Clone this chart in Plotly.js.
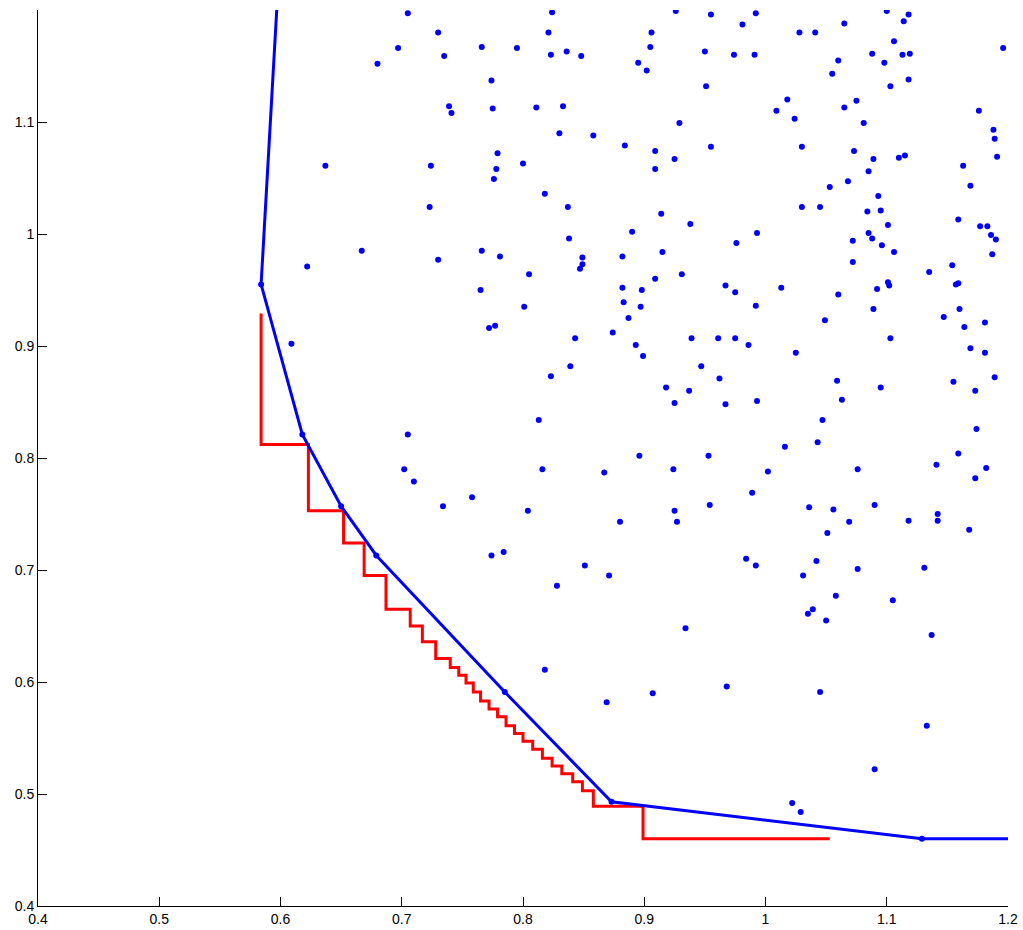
<!DOCTYPE html>
<html>
<head>
<meta charset="utf-8">
<script src="https://cdn.plot.ly/plotly-3.0.1.min.js"></script>
<style>html,body{margin:0;padding:0;background:#fff;}#chart{width:1023px;height:930px;}</style>
</head>
<body>
<div id="chart"></div>
<script>
// Scattered sample points
const pointsX = [
0.705,0.730,0.697,0.766,0.795,0.735,0.680,0.774,0.739,0.741,0.775,0.779,0.637,0.724,0.800,0.778,0.776,0.723,
0.824,0.926,0.955,0.992,0.981,0.821,0.906,0.905,0.823,0.836,0.848,0.950,0.974,0.991,0.895,0.902,0.951,0.811,0.833,1.009,0.929,0.830,0.858,0.884,0.909,0.955,0.925,0.909,0.818,0.837,0.914,
1.100,1.118,1.114,1.065,1.028,1.041,1.106,1.196,1.088,1.113,1.119,1.060,1.098,1.055,1.118,1.103,1.018,1.075,1.065,1.176,1.024,1.081,1.188,1.189,1.030,1.073,1.089,1.110,1.115,1.191,1.163,1.085,1.068,1.053,1.169,1.093,1.030,1.045,1.084,1.095,
0.667,0.622,0.730,0.766,0.781,0.805,0.765,0.801,0.772,0.777,0.609,
0.938,0.890,0.993,0.838,0.976,0.849,0.882,0.915,0.849,0.847,0.909,0.931,0.882,0.898,0.967,0.975,1.013,0.883,0.897,0.992,0.887,0.874,0.843,0.939,0.961,0.975,0.986,0.893,0.899,0.839,0.947,0.823,0.962,0.918,0.937,0.925,0.967,0.993,0.813,
1.159,1.101,1.177,1.183,1.085,1.088,1.072,1.096,1.186,1.190,1.106,1.187,1.072,1.154,1.135,1.101,1.102,1.092,1.060,1.157,1.159,1.089,1.160,1.049,1.147,1.164,1.181,1.103,1.025,1.169,1.181,1.059,1.095,1.155,1.189,1.173,1.063,1.047,1.174,
0.705,0.702,0.710,0.758,0.734,0.804,0.774,0.784,
0.816,0.867,0.896,0.924,0.953,1.002,0.989,0.954,0.925,0.927,0.880,0.851,0.871,0.828,0.984,0.992,0.934,
1.016,1.043,1.159,1.141,1.182,1.173,1.076,1.036,1.056,1.090,1.069,1.051,1.118,1.142,1.142,1.168,1.042,1.076,1.031,1.131,1.058,1.105,1.035,1.039,1.050,1.137,
0.818,0.869,0.907,0.968,1.045,1.133,1.090,1.022,1.029,
0.584,0.618,0.650,0.679,0.785,0.873,1.129
];
const pointsY = [
1.197,1.180,1.166,1.167,1.166,1.159,1.152,1.137,1.114,1.108,1.112,1.072,1.061,1.061,1.063,1.058,1.049,1.024,
1.198,1.199,1.196,1.197,1.187,1.180,1.180,1.167,1.160,1.163,1.159,1.163,1.160,1.160,1.153,1.146,1.132,1.113,1.114,1.110,1.099,1.090,1.088,1.079,1.074,1.078,1.067,1.058,1.036,1.024,1.018,
1.199,1.196,1.190,1.188,1.180,1.180,1.172,1.166,1.161,1.160,1.161,1.155,1.153,1.143,1.138,1.132,1.120,1.119,1.113,1.110,1.103,1.099,1.093,1.085,1.078,1.074,1.067,1.068,1.070,1.069,1.061,1.056,1.047,1.042,1.043,1.034,1.024,1.024,1.020,1.021,
0.985,0.971,0.977,0.985,0.980,0.964,0.950,0.935,0.916,0.918,0.902,
1.009,1.002,1.001,0.996,0.992,0.979,0.980,0.984,0.973,0.969,0.960,0.964,0.952,0.950,0.954,0.948,0.952,0.939,0.935,0.936,0.925,0.912,0.907,0.907,0.907,0.907,0.901,0.901,0.891,0.882,0.882,0.873,0.871,0.863,0.860,0.849,0.848,0.851,0.834,
1.013,1.008,1.007,1.007,1.001,0.996,0.994,0.990,0.999,0.995,0.984,0.982,0.975,0.972,0.966,0.957,0.954,0.951,0.946,0.955,0.956,0.933,0.933,0.923,0.926,0.917,0.921,0.907,0.894,0.898,0.894,0.869,0.863,0.868,0.872,0.860,0.852,0.834,0.826,
0.821,0.790,0.779,0.765,0.757,0.753,0.713,0.716,
0.790,0.787,0.802,0.790,0.802,0.788,0.769,0.758,0.753,0.743,0.743,0.704,0.695,0.686,0.710,0.704,0.648,
0.810,0.814,0.804,0.794,0.791,0.782,0.790,0.756,0.754,0.758,0.743,0.733,0.744,0.750,0.744,0.736,0.708,0.701,0.695,0.702,0.677,0.673,0.661,0.665,0.655,0.642,
0.611,0.582,0.590,0.596,0.591,0.561,0.522,0.492,0.484,
0.955,0.821,0.757,0.713,0.591,0.493,0.460
];
// Convex hull (lower-left boundary)
const hullX = [0.597,0.584,0.618,0.650,0.679,0.785,0.873,1.129,1.200];
const hullY = [1.202,0.955,0.821,0.757,0.713,0.591,0.493,0.460,0.460];
// Staircase approximation
const stairX = [0.584,0.623,0.652,0.669,0.687,0.707,0.717,0.728,0.740,0.747,0.753,0.759,0.765,0.772,0.779,0.786,0.793,0.800,0.808,0.816,0.824,0.832,0.841,0.849,0.858,0.899,1.053];
const stairY = [0.929,0.812,0.753,0.724,0.695,0.665,0.650,0.636,0.621,0.613,0.606,0.599,0.591,0.583,0.576,0.569,0.561,0.554,0.547,0.540,0.532,0.525,0.518,0.511,0.503,0.489,0.460];
const xTicks = [0.4,0.5,0.6,0.7,0.8,0.9,1.0,1.1,1.2];
const xTickText = ['0.4','0.5','0.6','0.7','0.8','0.9','1','1.1','1.2'];
const yTicks = [0.4,0.5,0.6,0.7,0.8,0.9,1.0,1.1];
const yTickText = ['0.4','0.5','0.6','0.7','0.8','0.9','1','1.1'];

const traces = [
  {x: pointsX, y: pointsY, type: 'scatter', mode: 'markers',
   marker: {color: '#0000ff', size: 6}, hoverinfo: 'x+y'},
  {x: stairX, y: stairY, type: 'scatter', mode: 'lines',
   line: {color: '#ff0000', width: 3, shape: 'vh'}},
  {x: hullX, y: hullY, type: 'scatter', mode: 'lines',
   line: {color: '#0000ff', width: 3}}
];
const layout = {
  width: 1023, height: 930,
  margin: {l: 38, r: 15, t: 10, b: 24},
  showlegend: false,
  paper_bgcolor: '#ffffff', plot_bgcolor: '#ffffff',
  font: {family: 'Liberation Sans, Arial, sans-serif', size: 14, color: '#000'},
  xaxis: {range: [0.4, 1.2], tickvals: xTicks, ticktext: xTickText, ticks: 'inside', ticklen: 9,
          tickcolor: '#000', showline: true, linecolor: '#000', linewidth: 1, showgrid: false,
          zeroline: false, mirror: false, tickfont: {size: 14}},
  yaxis: {range: [0.4, 1.2], tickvals: yTicks, ticktext: yTickText, ticks: 'inside', ticklen: 9,
          tickcolor: '#000', showline: true, linecolor: '#000', linewidth: 1, showgrid: false,
          zeroline: false, mirror: false, tickfont: {size: 14}}
};
Plotly.newPlot('chart', traces, layout, {displayModeBar: false, staticPlot: true});
</script>
</body>
</html>
